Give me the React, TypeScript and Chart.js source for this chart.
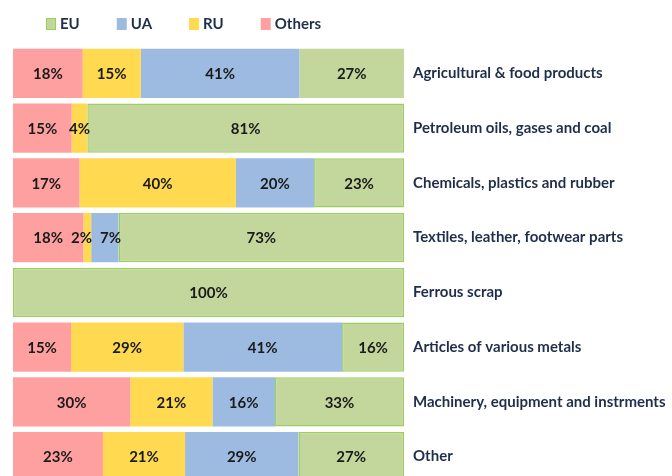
import React, { useEffect, useRef } from "react";
import { Chart, registerables } from "chart.js";

Chart.register(...registerables);

const categories = [
  "Agricultural & food products",
  "Petroleum oils, gases and coal",
  "Chemicals, plastics and rubber",
  "Textiles, leather, footwear parts",
  "Ferrous scrap",
  "Articles of various metals",
  "Machinery, equipment and instrments",
  "Other",
];

const others = [18, 15, 17, 18, 0, 15, 30, 23];
const ru = [15, 4, 40, 2, 0, 29, 21, 21];
const ua = [41, 0, 20, 7, 0, 41, 16, 29];
const eu = [27, 81, 23, 73, 100, 16, 33, 27];

const FONT = "Lato";
const LEGEND_ORDER = ["EU", "UA", "RU", "Others"];

export default function App() {
  const ref = useRef<HTMLCanvasElement | null>(null);

  useEffect(() => {
    const rowSums = categories.map((_, i) => others[i] + ru[i] + ua[i] + eu[i]);
    const norm = (arr: number[]) => arr.map((v, i) => (v / rowSums[i]) * 100);

    const series = [
      { label: "Others", raw: others, bg: "#FFA0A0", border: "#FFA0A0", bw: 0 },
      { label: "RU", raw: ru, bg: "#FFD950", border: "#FFD950", bw: 0 },
      { label: "UA", raw: ua, bg: "#9DBBE0", border: "#9DBBE0", bw: 0 },
      { label: "EU", raw: eu, bg: "#C3D69B", border: "#9ACF5E", bw: 1.5 },
    ];

    const labelPlugin = {
      id: "segLabels",
      afterDatasetsDraw(chart: any) {
        const ctx = chart.ctx;
        ctx.save();
        ctx.font = `bold 15px ${FONT}`;
        ctx.fillStyle = "#1a1a1a";
        ctx.textAlign = "center";
        ctx.textBaseline = "middle";
        const n = chart.data.labels.length;
        for (let i = 0; i < n; i++) {
          const items: { text: string; x: number; y: number; w: number }[] = [];
          chart.data.datasets.forEach((ds: any, di: number) => {
            const bar: any = chart.getDatasetMeta(di).data[i];
            const v = ds.rawValues[i];
            if (!v) return;
            const text = `${v}%`;
            items.push({ text, x: (bar.x + bar.base) / 2, y: bar.y + 1, w: ctx.measureText(text).width });
          });
          // simple separation of overlapping neighbours
          for (let k = 1; k < items.length; k++) {
            const a = items[k - 1];
            const b = items[k];
            const need = (a.w + b.w) / 2 + 8;
            const d = b.x - a.x;
            if (d < need) {
              const shift = (need - d) / 2;
              a.x -= shift;
              b.x += shift;
            }
          }
          items.forEach((it) => ctx.fillText(it.text, it.x, it.y));
        }
        ctx.restore();
      },
    };

    const legendPlugin = {
      id: "customLegend",
      afterDraw(chart: any) {
        const ctx = chart.ctx;
        ctx.save();
        ctx.font = `bold 15px ${FONT}`;
        ctx.textBaseline = "middle";
        ctx.textAlign = "left";
        let x = 46;
        const y = 24;
        LEGEND_ORDER.forEach((name) => {
          const ds = chart.data.datasets.find((d: any) => d.label === name);
          ctx.fillStyle = ds.backgroundColor;
          ctx.fillRect(x, y - 6, 10, 12);
          if (name === "EU") {
            ctx.strokeStyle = "#9ACF5E";
            ctx.lineWidth = 1;
            ctx.strokeRect(x + 0.5, y - 5.5, 9, 11);
          }
          ctx.fillStyle = "#1F2E4A";
          ctx.fillText(name, x + 14, y);
          const w = ctx.measureText(name).width;
          x += 14 + w + 37;
        });
        ctx.restore();
      },
    };

    const canvas = ref.current as HTMLCanvasElement;

    const chart = new Chart(canvas, {
      type: "bar",
      data: {
        labels: categories,
        datasets: series.map((s) => ({
          label: s.label,
          data: norm(s.raw),
          rawValues: s.raw,
          backgroundColor: s.bg,
          borderColor: s.border,
          borderWidth: s.bw ? s.raw.map((_, i) => (i === 0 ? 0 : s.bw)) : 0,
          borderSkipped: false,
          barPercentage: 0.9,
          categoryPercentage: 1,
        })) as any,
      },
      options: {
        indexAxis: "y",
        animation: false,
        responsive: false,
        maintainAspectRatio: false,
        layout: { padding: { top: 46, left: 13, right: 0, bottom: 6 } },
        plugins: {
          legend: { display: false },
          tooltip: { enabled: false },
        },
        scales: {
          x: { stacked: true, min: 0, max: 100, display: false },
          y: {
            stacked: true,
            position: "right",
            grid: { display: false, drawTicks: false },
            border: { display: false },
            ticks: {
              padding: 9,
              color: "#1F2E4A",
              font: { family: FONT, size: 15, weight: "bold" },
            },
            afterFit: (s: any) => {
              s.width = 268;
              s.paddingTop = 0;
              s.paddingBottom = 0;
            },
          },
        },
      },
      plugins: [labelPlugin, legendPlugin],
    });
    return () => chart.destroy();
  }, []);

  return (
    <div style={{ position: "fixed", left: 0, top: 0, width: 672, height: 490, background: "#fff" }}>
      <canvas ref={ref} width={672} height={490} style={{ display: "block", width: 672, height: 490 }} />
    </div>
  );
}
